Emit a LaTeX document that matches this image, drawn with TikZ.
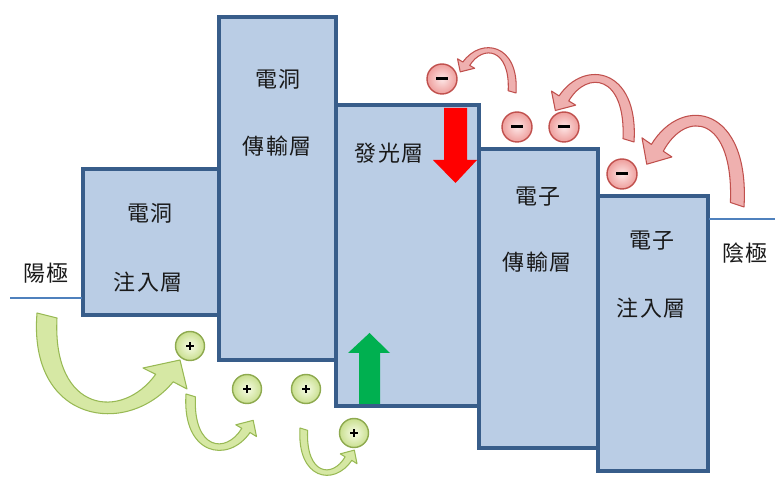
\documentclass[tikz,border=0pt]{standalone}
\usepackage{fontspec}
\newfontfamily\cjk[LetterSpace=8]{Noto Sans CJK TC}
\definecolor{boxfill}{HTML}{BACDE5}
\definecolor{boxdraw}{HTML}{385D8A}
\definecolor{elec}{HTML}{4F81BD}
\definecolor{gfill}{HTML}{D6E8A4}
\definecolor{gdraw}{HTML}{98B954}
\definecolor{rfill}{HTML}{EFB0AF}
\definecolor{rdraw}{HTML}{C0504D}
\definecolor{pin}{HTML}{F7FCE6}
\definecolor{pout}{HTML}{C9DF8F}
\definecolor{pdraw}{HTML}{8EAA4F}
\definecolor{min}{HTML}{FDE6E6}
\definecolor{mout}{HTML}{EE9E9C}
\definecolor{mdraw}{HTML}{C0504D}
\definecolor{bigred}{HTML}{FF0000}
\definecolor{biggreen}{HTML}{00B050}
\def\carrowpath{(0,0) .. controls (-9,110) and (90,125) .. (136.2,68.8) -- (150,76) -- (143,47) -- (106,55) -- (118.7,61.3) .. controls (85,108) and (15,100) .. (20,5) -- cycle}
\tikzset{
  layer/.style={draw=boxdraw, fill=boxfill, line width=2.3pt},
  lbl/.style={font=\cjk\fontsize{12.5pt}{14pt}\selectfont, text=black!90, inner sep=0pt},
  garrow/.style={fill=gfill, draw=gdraw, line width=0.6pt, line join=round},
  rarrow/.style={fill=rfill, draw=rdraw, line width=0.6pt, line join=round},
  plusball/.style={circle, minimum size=0.58cm, inner sep=0pt, inner color=pin, outer color=pout, draw=pdraw, line width=0.8pt,
    path picture={\draw[black, line width=1.1pt]
      ([xshift=-0.075cm]path picture bounding box.center) -- ([xshift=0.075cm]path picture bounding box.center)
      ([yshift=-0.075cm]path picture bounding box.center) -- ([yshift=0.075cm]path picture bounding box.center);}},
  minusball/.style={circle, minimum size=0.6cm, inner sep=0pt, inner color=min, outer color=mout, draw=mdraw, line width=0.8pt},
  elecline/.style={draw=elec, line width=1.3pt}
}
\begin{document}
\begin{tikzpicture}[x=0.02cm, y=-0.02cm]
\useasboundingbox (0,0) rectangle (775,482);
% layers
\draw[layer] (83,169) rectangle (219,315);
\draw[layer] (219,17) rectangle (336,360);
\draw[layer] (336,105) rectangle (479,406);
\draw[layer] (479,149) rectangle (598,448);
\draw[layer] (598,196) rectangle (708,471);
% electrode lines
\coordinate (anL) at (10,298);
\coordinate (anR) at (82,298);
\coordinate (caL) at (709,219);
\coordinate (caR) at (775,219);
\draw[elecline] (anL) -- (anR);
\draw[elecline] (caL) -- (caR);
% labels
\node[lbl] (anode) at (46,273) {陽極};
\node[lbl] (cathode) at (745,253) {陰極};
\node[lbl] (hil1) at (150,213) {電洞};
\node[lbl] (hil2) at (148,282) {注入層};
\node[lbl] (htl1) at (278,79) {電洞};
\node[lbl] (htl2) at (277,146) {傳輸層};
\node[lbl] (eml) at (389,153) {發光層};
\node[lbl] (etl1) at (538,197) {電子};
\node[lbl] (etl2) at (537,262) {傳輸層};
\node[lbl] (eil1) at (652,241) {電子};
\node[lbl] (eil2) at (651,308) {注入層};
% straight block arrows
\fill[bigred] (444,108) -- (467,108) -- (467,160) -- (477,160) -- (455.5,183) -- (433,160) -- (444,160) -- cycle;
\fill[biggreen] (359,404) -- (380,404) -- (380,353) -- (390,353) -- (369.5,333) -- (348,353) -- (359,353) -- cycle;
% curved green arrows
\filldraw[garrow, shift={(37,313)}] \carrowpath;
\filldraw[garrow, shift={(186,394)}, xscale=0.47, yscale=0.56] \carrowpath;
\filldraw[garrow, shift={(300,428)}, xscale=0.38, yscale=0.47] \carrowpath;
% curved red arrows
\filldraw[rarrow, shift={(516,93)}, xscale=-0.39, yscale=-0.45] \carrowpath;
\filldraw[rarrow, shift={(634,142)}, xscale=-0.55, yscale=-0.67] \carrowpath;
\filldraw[rarrow, shift={(744,207)}, xscale=-0.68, yscale=-0.91] \carrowpath;
% holes
\node[plusball] (h1) at (190,346) {};
\node[plusball] (h2) at (247,389) {};
\node[plusball] (h3) at (306,389) {};
\node[plusball] (h4) at (354,433) {};
% electrons
\node[minusball] (e1) at (442,79) {\rule[0.06em]{0.24cm}{0.06cm}};
\node[minusball] (e2) at (517,127) {\rule[0.06em]{0.24cm}{0.06cm}};
\node[minusball] (e3) at (564,127) {\rule[0.06em]{0.24cm}{0.06cm}};
\node[minusball] (e4) at (622,174) {\rule[0.06em]{0.24cm}{0.06cm}};
\end{tikzpicture}
\end{document}
